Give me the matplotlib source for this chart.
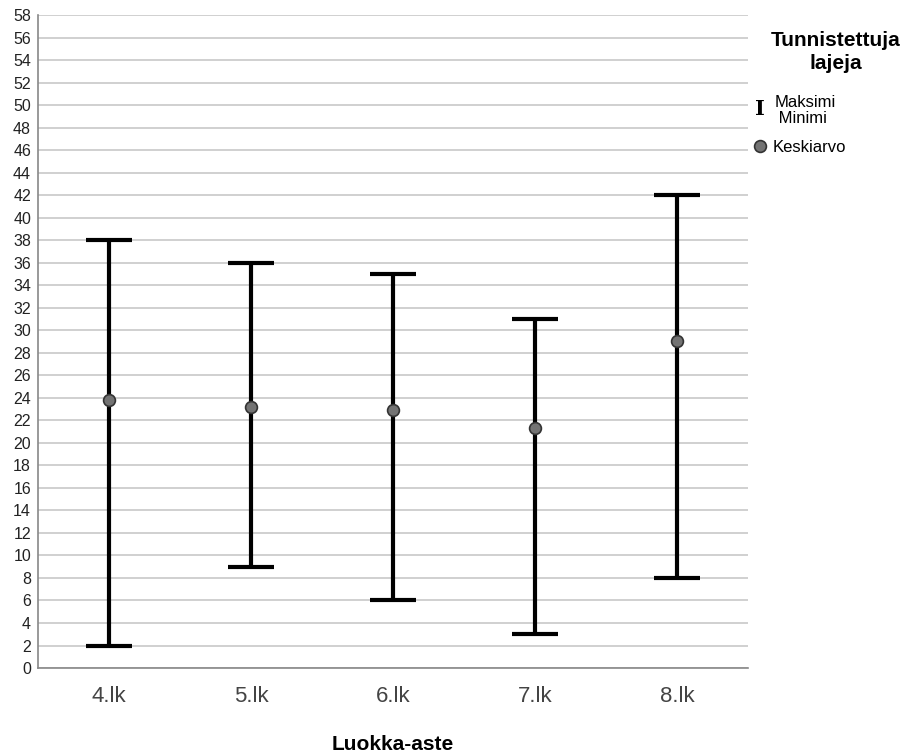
import matplotlib.pyplot as plt
from matplotlib.lines import Line2D
import numpy as np

plt.rcParams['font.family'] = ['Liberation Sans', 'DejaVu Sans']

# data
luokat = ['4.lk', '5.lk', '6.lk', '7.lk', '8.lk']
maksimi = [38, 36, 35, 31, 42]
minimi = [2, 9, 6, 3, 8]
keskiarvo = [23.85, 23.2, 22.9, 21.3, 29.05]
y_ticks = list(range(0, 59, 2))

fig = plt.figure(figsize=(9.14, 7.54), dpi=100)
ax = fig.add_axes([0.0416, 0.114, 0.777, 0.866])

x = np.arange(len(luokat))

# gridlines
ax.set_yticks(y_ticks)
ax.yaxis.grid(True, color='#d0d0d0', linewidth=1.4)
ax.set_axisbelow(True)

# high-low bars with caps
ax.vlines(x, minimi, maksimi, color='black', linewidth=3, zorder=3)
cap = 0.16
ax.hlines(maksimi, x - cap, x + cap, color='black', linewidth=3, zorder=3)
ax.hlines(minimi, x - cap, x + cap, color='black', linewidth=3, zorder=3)

# means
ax.plot(x, keskiarvo, 'o', markersize=8.5, markerfacecolor='#737373',
        markeredgecolor='#333333', markeredgewidth=1.2, zorder=4)

ax.set_xlim(-0.5, len(luokat) - 0.5)
ax.set_ylim(0, 58)
ax.set_xticks(x)
ax.set_xticklabels(luokat, fontsize=16, color='#444444')
ax.tick_params(axis='y', labelsize=11.5, length=0, pad=5, labelcolor='#222222')
ax.tick_params(axis='x', length=0, pad=13)

for s in ['top', 'right']:
    ax.spines[s].set_visible(False)
for s in ['left', 'bottom']:
    ax.spines[s].set_color('#888888')
    ax.spines[s].set_linewidth(1.2)

ax.set_xlabel('Luokka-aste', fontsize=15, fontweight='bold', labelpad=20)

# legend
fig.text(0.914, 0.959, 'Tunnistettuja\nlajeja', fontsize=15, fontweight='bold',
         ha='center', va='top', linespacing=1.3)
fig.text(0.8315, 0.855, 'I', fontsize=15, fontweight='bold', ha='center', va='center',
         family='DejaVu Serif')
fig.text(0.847, 0.853, 'Maksimi\n Minimi', fontsize=12, ha='left', va='center',
         linespacing=1.1)
fig.add_artist(Line2D([0.8315], [0.807], marker='o', markersize=8.5,
                      markerfacecolor='#737373', markeredgecolor='#333333',
                      markeredgewidth=1.2, transform=fig.transFigure))
fig.text(0.845, 0.805, 'Keskiarvo', fontsize=12, ha='left', va='center')

fig.savefig('out.png', dpi=100)
